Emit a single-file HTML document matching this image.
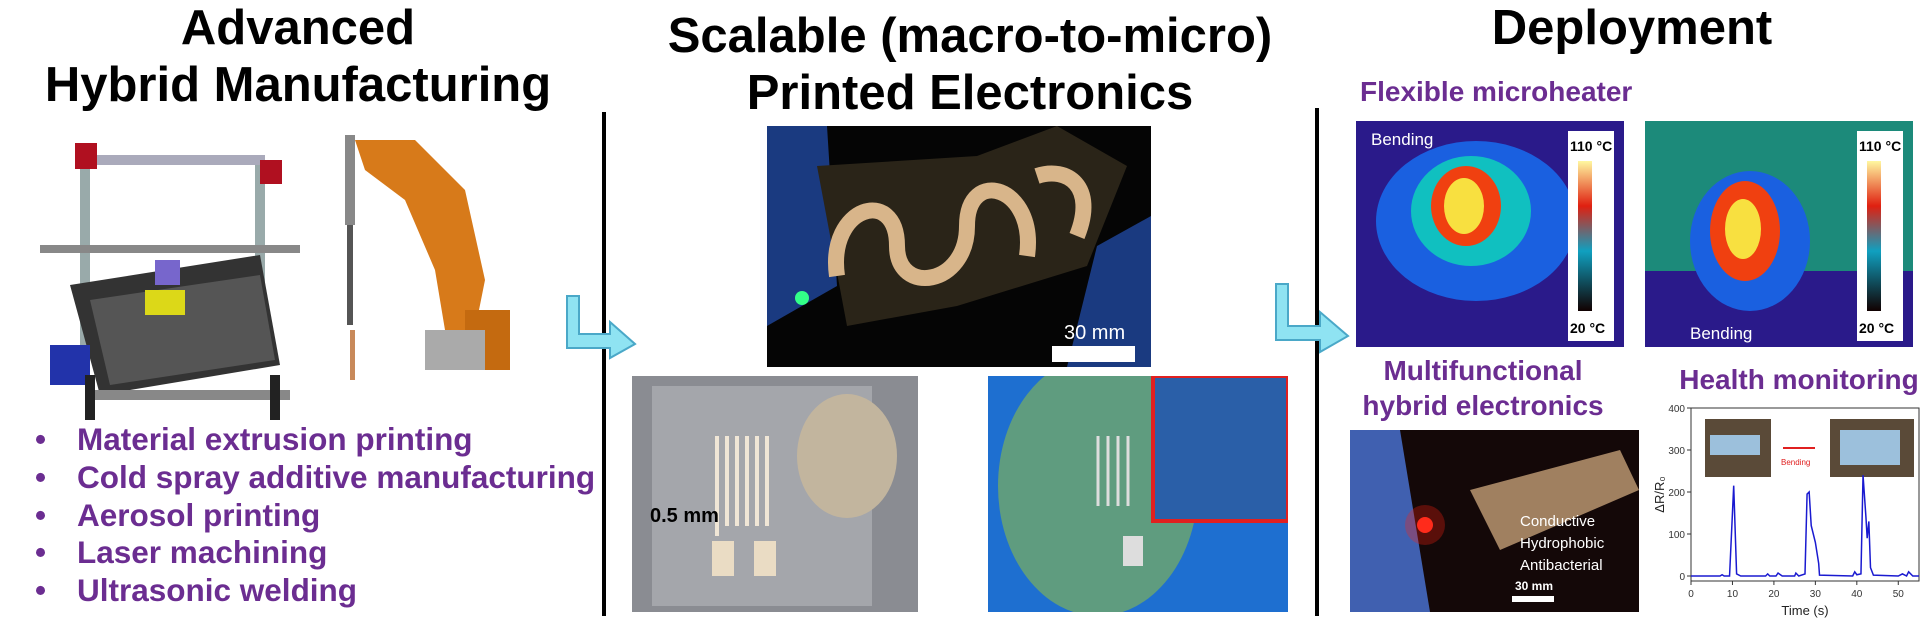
<!DOCTYPE html>
<html><head><meta charset="utf-8">
<style>
body{margin:0;width:1932px;height:632px;background:#fff;position:relative;overflow:hidden;font-family:"Liberation Sans",Arial,sans-serif}
.abs{position:absolute}
.title{font-weight:bold;font-size:49px;color:#000;text-align:center;line-height:57px}
.purple{color:#6b2d91;font-weight:bold}
.bul{position:absolute;left:35px;font-size:31.5px;font-weight:bold;color:#6b2d91}
.bul span{position:absolute;left:42px;white-space:nowrap}
</style></head><body>
<div class="abs title" style="left:0;top:0px;width:596px">Advanced<br>Hybrid Manufacturing</div>
<div class="abs title" style="left:630px;top:8px;width:680px">Scalable (macro-to-micro)<br>Printed Electronics</div>
<div class="abs title" style="left:1440px;top:0px;width:384px">Deployment</div>

<div class="abs" style="left:602px;top:112px;width:4px;height:504px;background:#000"></div>
<div class="abs" style="left:1315px;top:108px;width:4px;height:508px;background:#000"></div>

<svg class="abs" style="left:30px;top:135px" width="290" height="290">
<rect x="50" y="20" width="10" height="200" fill="#9aa"/><rect x="225" y="30" width="10" height="200" fill="#9aa"/>
<rect x="50" y="20" width="185" height="10" fill="#aab"/><rect x="45" y="8" width="22" height="26" fill="#b01020"/><rect x="230" y="25" width="22" height="24" fill="#b01020"/>
<polygon points="40,150 230,120 250,230 70,260" fill="#333"/><polygon points="60,165 230,140 245,225 80,250" fill="#555"/>
<rect x="115" y="155" width="40" height="25" fill="#dcd818"/><rect x="125" y="125" width="25" height="25" fill="#7766cc"/>
<rect x="10" y="110" width="260" height="8" fill="#888"/><rect x="20" y="210" width="40" height="40" fill="#2233aa"/>
<rect x="60" y="255" width="200" height="10" fill="#888"/><rect x="55" y="240" width="10" height="45" fill="#222"/><rect x="240" y="240" width="10" height="45" fill="#222"/>
</svg>
<svg class="abs" style="left:335px;top:130px" width="190" height="250">
<rect x="10" y="5" width="10" height="90" fill="#888"/><rect x="12" y="95" width="6" height="100" fill="#555"/>
<polygon points="20,10 80,10 130,60 150,150 140,200 110,200 100,140 70,70 30,40" fill="#d77a1a"/>
<rect x="130" y="180" width="45" height="60" fill="#c46a10"/><rect x="90" y="200" width="60" height="40" fill="#aaa"/>
<rect x="15" y="200" width="5" height="60" fill="#c8895a"/>
</svg>

<div class="bul" style="top:421px">•<span>Material extrusion printing</span></div>
<div class="bul" style="top:459px">•<span>Cold spray additive manufacturing</span></div>
<div class="bul" style="top:497px">•<span>Aerosol printing</span></div>
<div class="bul" style="top:534px">•<span>Laser machining</span></div>
<div class="bul" style="top:572px">•<span>Ultrasonic welding</span></div>

<svg class="abs" style="left:565px;top:294px" width="75" height="66">
<polygon points="2,2 14,2 14,40 45,40 45,28 70,50 45,64 45,54 2,54" fill="#8fe3f2" stroke="#4aa8c8" stroke-width="2"/></svg>
<svg class="abs" style="left:1274px;top:282px" width="78" height="72">
<polygon points="2,2 14,2 14,44 46,44 46,30 74,54 46,70 46,58 2,58" fill="#8fe3f2" stroke="#4aa8c8" stroke-width="2"/></svg>

<svg class="abs" style="left:767px;top:126px" width="384" height="241">
<rect width="384" height="241" fill="#050505"/>
<polygon points="0,0 60,0 70,160 0,200" fill="#1a3a80"/><polygon points="330,120 384,90 384,241 300,241" fill="#1a3a80"/>
<polygon points="50,40 210,30 290,0 360,40 320,140 190,180 80,200" fill="#2a2418"/>
<path d="M70 150 C60 80 130 60 130 120 C130 170 200 160 200 100 C200 40 270 60 260 130" stroke="#d8b58a" stroke-width="16" fill="none"/>
<path d="M270 50 C300 40 330 60 310 110" stroke="#d8b58a" stroke-width="16" fill="none"/>
<circle cx="35" cy="172" r="7" fill="#3f8"/>
<text x="297" y="213" font-size="20" fill="#fff" font-family="Liberation Sans">30 mm</text>
<rect x="285" y="220" width="83" height="16" fill="#fff"/>
</svg>
<svg class="abs" style="left:632px;top:376px" width="286" height="236">
<rect width="286" height="236" fill="#8a8c92"/><rect x="20" y="10" width="220" height="220" fill="#a4a6ab"/>
<ellipse cx="215" cy="80" rx="50" ry="62" fill="#c2b59e"/>
<path d="M85 160 V60 M95 60 V150 M105 60 V150 M115 60 V150 M125 60 V150 M135 60 V150" stroke="#f0e6d6" stroke-width="4"/>
<rect x="80" y="165" width="22" height="35" fill="#eadcc4"/><rect x="122" y="165" width="22" height="35" fill="#eadcc4"/>
<text x="18" y="146" font-size="20" font-weight="bold" fill="#000" font-family="Liberation Sans">0.5 mm</text>
</svg>
<svg class="abs" style="left:988px;top:376px" width="300" height="236">
<rect width="300" height="236" fill="#1e6fd0"/><ellipse cx="110" cy="110" rx="100" ry="130" fill="#6fa86a" opacity="0.8"/>
<rect x="165" y="0" width="135" height="145" fill="#2a5fa8" stroke="#e02020" stroke-width="4"/>
<path d="M110 130 V60 M120 60 V130 M130 60 V130 M140 60 V130" stroke="#ddd" stroke-width="3"/>
<rect x="135" y="160" width="20" height="30" fill="#ddd"/>
</svg>

<div class="abs purple" style="left:1360px;top:76px;font-size:28px">Flexible microheater</div>
<svg class="abs" style="left:1356px;top:121px" width="268" height="226">
<rect width="268" height="226" fill="#2a1a8a"/><ellipse cx="120" cy="100" rx="100" ry="80" fill="#1a60e0"/><ellipse cx="115" cy="90" rx="60" ry="55" fill="#10c0c0"/><ellipse cx="110" cy="85" rx="35" ry="40" fill="#f04010"/><ellipse cx="108" cy="85" rx="20" ry="28" fill="#f8e040"/>
<text x="15" y="24" font-size="17" fill="#fff" font-family="Liberation Sans">Bending</text>
<rect x="212" y="10" width="46" height="210" fill="#fff"/><rect x="222" y="40" width="14" height="150" fill="url(#cb)"/>
<defs><linearGradient id="cb" x1="0" y1="0" x2="0" y2="1"><stop offset="0" stop-color="#fff8a0"/><stop offset="0.3" stop-color="#e02010"/><stop offset="0.6" stop-color="#10a0c0"/><stop offset="1" stop-color="#100"/></linearGradient></defs>
<text x="214" y="30" font-size="14" font-weight="bold" font-family="Liberation Sans">110 °C</text><text x="214" y="212" font-size="14" font-weight="bold" font-family="Liberation Sans">20 °C</text>
</svg>
<svg class="abs" style="left:1645px;top:121px" width="268" height="226">
<rect width="268" height="226" fill="#1c8a7a"/><rect y="150" width="268" height="76" fill="#2a1a8a"/><ellipse cx="105" cy="120" rx="60" ry="70" fill="#1a60e0"/><ellipse cx="100" cy="110" rx="35" ry="50" fill="#f04010"/><ellipse cx="98" cy="108" rx="18" ry="30" fill="#f8e040"/>
<text x="45" y="218" font-size="17" fill="#fff" font-family="Liberation Sans">Bending</text>
<rect x="212" y="10" width="46" height="210" fill="#fff"/><rect x="222" y="40" width="14" height="150" fill="url(#cb)"/>
<text x="214" y="30" font-size="14" font-weight="bold" font-family="Liberation Sans">110 °C</text><text x="214" y="212" font-size="14" font-weight="bold" font-family="Liberation Sans">20 °C</text>
</svg>

<div class="abs purple" style="left:1330px;top:353px;width:306px;text-align:center;font-size:28px;line-height:35px">Multifunctional<br>hybrid electronics</div>
<svg class="abs" style="left:1350px;top:430px" width="289" height="182">
<rect width="289" height="182" fill="#140808"/><polygon points="0,0 50,0 80,182 0,182" fill="#4060b0"/><polygon points="120,60 270,20 289,60 150,120" fill="#a08060"/>
<circle cx="75" cy="95" r="8" fill="#ff3020"/><circle cx="75" cy="95" r="20" fill="#ff2010" opacity="0.3"/>
<text x="170" y="96" font-size="15" fill="#fff" font-family="Liberation Sans">Conductive</text><text x="170" y="118" font-size="15" fill="#fff" font-family="Liberation Sans">Hydrophobic</text><text x="170" y="140" font-size="15" fill="#fff" font-family="Liberation Sans">Antibacterial</text>
<text x="165" y="160" font-size="12" font-weight="bold" fill="#fff" font-family="Liberation Sans">30 mm</text><rect x="162" y="166" width="42" height="6" fill="#fff"/>
</svg>

<div class="abs purple" style="left:1666px;top:364px;width:266px;text-align:center;font-size:28px">Health monitoring</div>
<svg class="abs" id="chart" style="left:1650px;top:395px" width="282" height="237"></svg>
<script>
const xTicks=[0,10,20,30,40,50];
const yTicks=[0,100,200,300,400];
const timeS=[0,7,7.5,8,9.3,10.3,11,12,18,18.5,19,20.5,21,22,25,25.3,26,27.5,28,28.5,29,30,30.8,31,39,39.5,40,41,41.5,42.2,42.5,42.9,43.3,44,50,51,52,52.5,53.5,55];
const dR=[0,0,3,0,0,215,5,0,0,5,0,0,7,0,0,7,0,5,195,200,120,80,30,2,0,10,3,5,240,140,90,130,20,2,0,5,0,10,0,0];
const svg=document.getElementById('chart');const NS='http://www.w3.org/2000/svg';
const L=41,R=269,T=13,B=186;
const X=v=>L+(v/55)*(R-L), Y=v=>186-5-(v/400)*(181-13);
function mk(t,a,txt){const e=document.createElementNS(NS,t);for(const k in a)e.setAttribute(k,a[k]);if(txt!==undefined)e.textContent=txt;svg.appendChild(e);return e;}
let p1=mk('rect',{x:55,y:24,width:66,height:58,fill:'#5a4a38'});
let p2=mk('rect',{x:180,y:24,width:84,height:58,fill:'#5a4a38'});
mk('rect',{x:60,y:40,width:50,height:20,fill:'#9cc0dc'});mk('rect',{x:190,y:35,width:60,height:35,fill:'#9cc0dc'});
mk('line',{x1:133,y1:53,x2:165,y2:53,stroke:'#e02020','stroke-width':2});
let bt=mk('text',{x:131,y:70,'font-size':8,fill:'#e02020','font-family':'Liberation Sans'},'Bending');
let fr=mk('rect',{x:L,y:T,width:R-L,height:B-T,fill:'none',stroke:'#333','stroke-width':1});
xTicks.forEach(v=>{mk('line',{x1:X(v),y1:B,x2:X(v),y2:B+4,stroke:'#333'});let t=mk('text',{x:X(v),y:B+16,'font-size':10,'text-anchor':'middle',fill:'#333','font-family':'Liberation Sans'},v);});
yTicks.forEach(v=>{mk('line',{x1:L-4,y1:Y(v),x2:L,y2:Y(v),stroke:'#333'});let t=mk('text',{x:L-6,y:Y(v)+4,'font-size':10,'text-anchor':'end',fill:'#333','font-family':'Liberation Sans'},v);});
let xt=mk('text',{x:(L+R)/2,y:B+34,'font-size':13,'text-anchor':'middle',fill:'#222','font-family':'Liberation Sans'},'Time (s)');
let yt=mk('text',{x:0,y:0,'font-size':13,'text-anchor':'middle',fill:'#222','font-family':'Liberation Sans',transform:`translate(14,${(T+B)/2}) rotate(-90)`},'ΔR/R₀');
let ln=mk('polyline',{points:timeS.map((t,i)=>X(t)+','+Y(dR[i])).join(' '),fill:'none',stroke:'#1a1ad0','stroke-width':1.5});


</script>
</body></html>
